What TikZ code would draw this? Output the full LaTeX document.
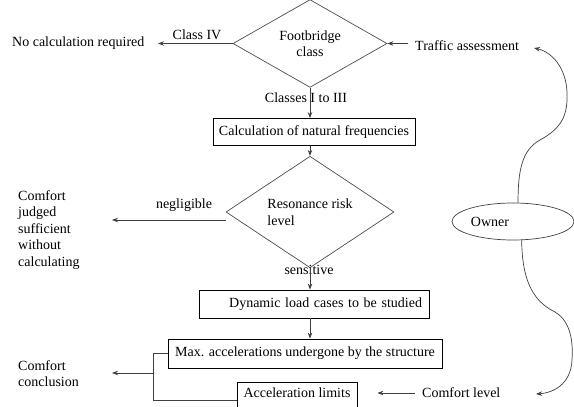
\documentclass[tikz,border=0pt]{standalone}
\usepackage{fontspec}
\setmainfont{Liberation Serif}
\usetikzlibrary{shapes.geometric,arrows.meta}
\begin{document}
\begin{tikzpicture}[x=1pt,y=-1pt,
  every node/.style={font=\fontsize{14}{16.5}\selectfont, inner sep=0pt},
  dia/.style={draw=black!70, line width=0.7pt, shape=diamond, inner sep=0pt},
  boxn/.style={draw=black, line width=0.8pt, inner xsep=6pt, inner ysep=0pt, minimum height=27pt},
  arr/.style={draw=black!75, line width=0.8pt, -{Stealth[length=6pt,width=4.5pt]}},
  ln/.style={draw=black!75, line width=0.8pt},
  curv/.style={draw=black!75, line width=0.7pt, -{Stealth[length=6pt,width=4.5pt]}},
  ell/.style={draw=black!75, line width=0.7pt, shape=ellipse}
]
\useasboundingbox (0,0) rectangle (574,407);
% decisions
\node[dia, minimum width=154pt, minimum height=75pt, align=center] (d1) at (310,43.5) {Footbridge\\class};
\node[dia, minimum width=168pt, minimum height=87pt, align=left] (d2) at (310,212) {Resonance risk\\level};
% boxes
\node[boxn, minimum width=202pt] (b1) at (314,132) {Calculation of natural frequencies};
\node[boxn, minimum height=28pt, text width=216pt, align=right, inner xsep=7pt] (b2) at (314,304) {Dynamic load cases to be studied};
\node[boxn, minimum width=274pt, minimum height=29pt] (b3) at (305,353.5) {Max. accelerations undergone by the structure};
\node[boxn, minimum width=120pt, text height=15.5pt, text depth=20pt, anchor=north] (b4) at (297,382) {Acceleration limits};
% texts
\node[anchor=west] (nocalc) at (12,43) {No calculation required};
\node[anchor=west] (traffic) at (415,46) {Traffic assessment};
\node[anchor=north west, align=left] (cjs) at (18,190) {Comfort\\judged\\sufficient\\without\\calculating};
\node[anchor=north west, align=left] (cc) at (18,360) {Comfort\\conclusion};
\node[anchor=west] (comfl) at (422,393) {Comfort level};
\node[ell, minimum width=122pt, minimum height=37pt] (owner) at (513,221.5) {};
\node (ownert) at (490,222) {Owner};
% labels
\node (lclass4) at (197,35) {Class IV};
\node (lclasses) at (306,98) {Classes I to III};
\node (lneg) at (184,205) {negligible};
\node (lsens) at (309,270) {sensitive};
% free ends
\coordinate (nctip) at (158,43.5);
\coordinate (negtip) at (112,220);
\coordinate (bx) at (153,373);
\coordinate (cctip) at (112,373);
\coordinate (tatip) at (534,48);
\coordinate (cltip) at (536,394);
% connectors
\draw[arr] (d1.west) -- (nctip);
\draw[arr, shorten <=7pt] (traffic.west |- d1.east) -- (d1.east);
\draw[arr] (d1.south) -- (d1.south |- b1.north);
\draw[arr] (b1.south -| d2.north) -- (d2.north);
\draw[arr] (d2.west |- negtip) -- (negtip);
\draw[arr] (d2.south) -- (d2.south |- b2.north);
\draw[arr] (d2.south |- b2.south) -- (d2.south |- b3.north);
\draw[ln] (b3.west) -- (b3.west -| bx) -- (b4.west -| bx) -- (b4.west);
\draw[arr] (bx) -- (cctip);
\draw[arr, shorten <=7pt, shorten >=20pt] (comfl.west) -- (b4.east |- comfl.west);
\draw[curv] (owner.75) .. controls (518,170) and (522,150) .. (540,140) .. controls (562,128) and (568,115) .. (567,92) .. controls (566,68) and (552,52) .. (tatip);
\draw[curv] (owner.-65) .. controls (522,275) and (530,300) .. (555,312) .. controls (572,322) and (573,345) .. (572,360) .. controls (571,385) and (552,393) .. (cltip);
\end{tikzpicture}
\end{document}
